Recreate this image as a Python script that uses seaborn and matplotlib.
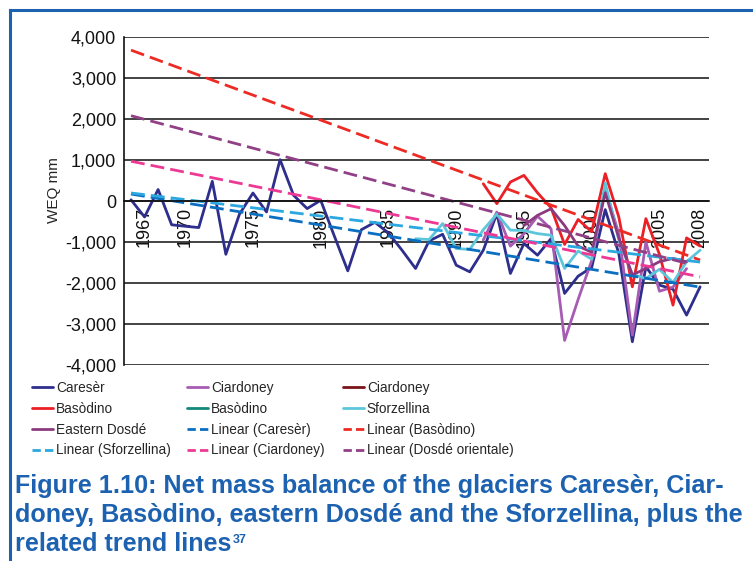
import matplotlib
matplotlib.use("Agg")
import matplotlib.pyplot as plt
import numpy as np
import seaborn as sns
from matplotlib import font_manager
from matplotlib.lines import Line2D

# one category slot per year on the x axis
years = list(range(1966, 2009))
label_years = [1967, 1970, 1975, 1980, 1985, 1990, 1995, 2000, 2005, 2008]
y_ticks = [-4000, -3000, -2000, -1000, 0, 1000, 2000, 3000, 4000]

# net mass balance, WEQ mm
careser = [30, -390, 280, -580, -616, -648, 480, -1300, -324, 195,
           -268, 1008, 139, -185, 17, -850, -1704, -700, -520, -780,
           -1200, -1646, -974, -811, -1565, -1728, -1200, -307, -1767, -1037,
           -1322, -916, -2254, -1833, -1620, -210, -1280, -3432, -1606, -2052,
           -2150, -2783, -2093]

ciardoney_years = list(range(1992, 2008))
ciardoney = [-950, -270, -1100, -800, -370, -680, -3400, -2400, -1450, 300,
             -800, -3270, -1000, -2200, -2100, -1650]

basodino_years = list(range(1992, 2009))
basodino = [420, -65, 463, 625, 200, -165, -1060, -450, -750, 667,
            -390, -2093, -430, -1300, -2540, -900, -1100]

sforzellina_years = list(range(1987, 2009))
sforzellina = [-920, -940, -550, -1160, -1180, -700, -320, -710, -720, -795,
               -835, -1646, -1220, -1420, 440, -950, -1790, -1890, -1666, -1990,
               -1480, -1200]

dosde_years = list(range(1995, 2008))
dosde = [-600, -350, -190, -600, -1100, -1250, 200, -900, -1800, -1650,
         -1480, -1400, -1480]

# linear trend lines, end points
trend_years = [1966, 2008]
trend_careser = [170, -2100]
trend_basodino = [3680, -1440]
trend_sforzellina = [195, -1490]
trend_ciardoney = [970, -1850]
trend_dosde_years = [1966, 2007]
trend_dosde = [2080, -1520]

W, H = 753, 561
BLUE = "#1c62b0"

sns.set_style("white")
plt.rcParams["font.family"] = ["Liberation Sans", "DejaVu Sans"]

fig = plt.figure(figsize=(W / 100, H / 100), dpi=100)
ax = fig.add_axes([124 / W, 1 - 365 / H, (709 - 124) / W, (365 - 37) / H])

solid = [
    ("Caresèr", years, careser, "#2e2f8c"),
    ("Ciardoney", ciardoney_years, ciardoney, "#a65cb3"),
    ("Ciardoney", None, None, "#7a1418"),
    ("Basòdino", basodino_years, basodino, "#ec1f26"),
    ("Basòdino", None, None, "#14897a"),
    ("Sforzellina", sforzellina_years, sforzellina, "#5cc6da"),
    ("Eastern Dosdé", dosde_years, dosde, "#8c3a7f"),
]
dashed = [
    ("Linear (Caresèr)", trend_years, trend_careser, "#0b6fc1"),
    ("Linear (Basòdino)", trend_years, trend_basodino, "#ee2a24"),
    ("Linear (Sforzellina)", trend_years, trend_sforzellina, "#2ba8df"),
    ("Linear (Ciardoney)", trend_years, trend_ciardoney, "#ec3a94"),
    ("Linear (Dosdé orientale)", trend_dosde_years, trend_dosde, "#924086"),
]

legend_handles = []
legend_labels = []

for label, xs, ys, color in solid:
    if xs is not None:
        sns.lineplot(x=np.array(xs), y=np.array(ys), ax=ax, color=color,
                     linewidth=2.0, sort=False)
    # series without values still get their legend entry
    legend_handles.append(Line2D([], [], color=color, linewidth=2.0))
    legend_labels.append(label)

for label, xs, ys, color in dashed:
    sns.lineplot(x=np.array(xs), y=np.array(ys), ax=ax, color=color,
                 linewidth=2.0, linestyle=(0, (5, 2.2)), sort=False)
    legend_handles.append(Line2D([], [], color=color, linewidth=2.0,
                                 linestyle=(0, (3, 1.5))))
    legend_labels.append(label)

if ax.get_legend() is not None:
    ax.get_legend().remove()

# axes
ax.set_xlim(1966 - 7 / 13.55, 1966 + 578 / 13.55)
ax.set_ylim(-4000, 4000)
ax.set_yticks(y_ticks)
ax.set_yticklabels([f"{v:,}" for v in y_ticks])
ax.set_xticks(years)
ax.set_xticklabels([str(y) if y in label_years else "" for y in years])
ax.set_xlabel("")
ax.set_ylabel("WEQ mm", fontsize=11)
ax.yaxis.set_label_coords(-0.108, 0.534)

ax.spines["top"].set_visible(False)
ax.spines["right"].set_visible(False)
ax.spines["bottom"].set_position(("data", 0))
for side in ("left", "bottom"):
    ax.spines[side].set_color("#111111")
    ax.spines[side].set_linewidth(1.2)

ax.yaxis.grid(True, color="#222222", linewidth=1.2)
ax.xaxis.grid(False)
ax.set_axisbelow(True)
ax.tick_params(axis="y", direction="out", length=4, width=1.2, labelsize=13,
               pad=1.5, colors="#111111")
ax.tick_params(axis="x", direction="out", length=3, width=1.0, labelsize=13,
               pad=1.5, labelrotation=90, colors="#111111")

# legend: three columns laid out like the original
col_x = [32, 187, 343]
for k, x0 in enumerate(col_x):
    idx = [k, k + 3, k + 6, k + 9]
    fig.legend([legend_handles[i] for i in idx], [legend_labels[i] for i in idx],
               loc="upper left", bbox_to_anchor=(x0 / W, 1 - 381 / H),
               frameon=False, fontsize=9.8, handlelength=1.55,
               handletextpad=0.2, labelspacing=0.5, borderpad=0,
               borderaxespad=0)

# frame around the figure (open on the right / bottom)
fig.add_artist(Line2D([10 / W, 1], [1 - 10 / H, 1 - 10 / H],
                      transform=fig.transFigure, color=BLUE, linewidth=2.2,
                      solid_capstyle="projecting"))
fig.add_artist(Line2D([10 / W, 10 / W], [1 - 10 / H, 0],
                      transform=fig.transFigure, color=BLUE, linewidth=2.2,
                      solid_capstyle="projecting"))

# caption
names = {f.name for f in font_manager.fontManager.ttflist}
cap_font = "Liberation Sans Narrow" if "Liberation Sans Narrow" in names else "Liberation Sans"
caption_lines = [
    "Figure 1.10: Net mass balance of the glaciers Caresèr, Ciar-",
    "doney, Basòdino, eastern Dosdé and the Sforzellina, plus the",
    "related trend lines",
]
caption_note = "37"
baselines = [493, 522, 551]
line_widths = [730, 727]

texts = [fig.text(15 / W, 1 - b / H, line, fontsize=16, fontweight="bold",
                  family=[cap_font, "DejaVu Sans"], color=BLUE, va="baseline")
         for line, b in zip(caption_lines, baselines)]
fig.canvas.draw()
renderer = fig.canvas.get_renderer()
fs = min(16 * target / texts[i].get_window_extent(renderer).width
         for i, target in enumerate(line_widths))
for t in texts:
    t.set_fontsize(fs)
fig.canvas.draw()
x_end = texts[2].get_window_extent(renderer).x1
fig.text((x_end + 1) / W, 1 - (baselines[2] - 8) / H, caption_note,
         fontsize=fs * 0.5, fontweight="bold", family=[cap_font, "DejaVu Sans"],
         color=BLUE, va="baseline")

fig.savefig("out.png", dpi=100)
